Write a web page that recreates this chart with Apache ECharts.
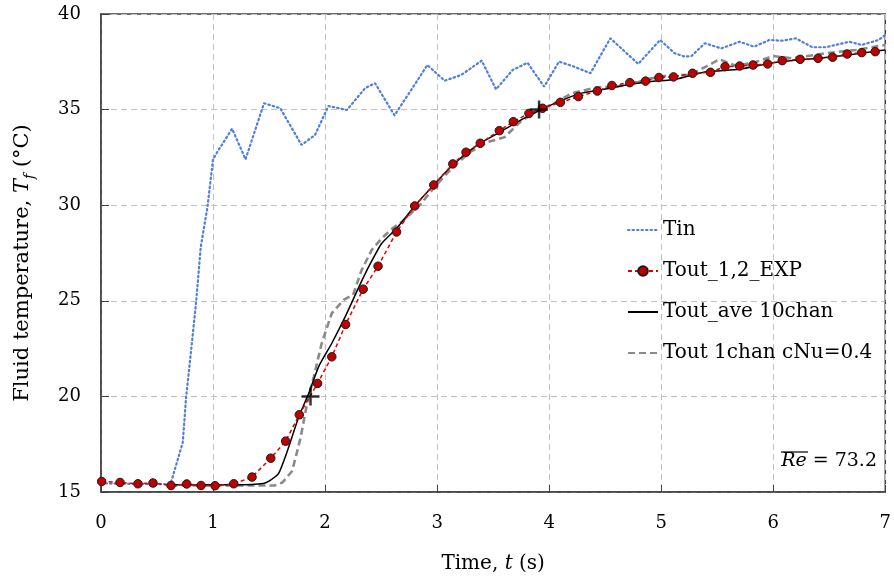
<!DOCTYPE html>
<html>
<head>
<meta charset="utf-8">
<script src="https://cdn.jsdelivr.net/npm/echarts@6/dist/echarts.min.js"></script>
<style>
html,body{margin:0;padding:0;background:#fff;}
#chart{width:894px;height:585px;}
</style>
</head>
<body>
<div id="chart"></div>
<script>
// ---- data (time in s, temperature in °C) ----
const tinT = [0, 0.62, 0.69, 0.73, 0.76, 0.79, 0.85, 0.89, 0.95, 1.0, 1.04, 1.17, 1.29, 1.455, 1.6, 1.79, 1.91, 2.03, 2.195, 2.357, 2.446, 2.62, 2.913, 3.067, 3.215, 3.398, 3.526, 3.674, 3.807, 3.955, 4.088, 4.22, 4.368, 4.546, 4.795, 4.99, 5.12, 5.21, 5.27, 5.39, 5.537, 5.70, 5.83, 5.966, 6.08, 6.20, 6.35, 6.47, 6.68, 6.79, 6.94, 7.0];
const tinV = [15.45, 15.4, 16.8, 17.6, 20.0, 21.6, 25.0, 27.8, 29.9, 32.4, 32.8, 34.0, 32.4, 35.33, 35.07, 33.15, 33.67, 35.19, 34.98, 36.12, 36.38, 34.7, 37.33, 36.51, 36.81, 37.56, 36.06, 37.07, 37.45, 36.2, 37.51, 37.25, 36.9, 38.73, 37.39, 38.64, 37.95, 37.77, 37.8, 38.47, 38.2, 38.55, 38.29, 38.64, 38.6, 38.73, 38.26, 38.26, 38.55, 38.38, 38.64, 38.9];

const expT = [0.006, 0.17, 0.33, 0.464, 0.625, 0.765, 0.893, 1.018, 1.185, 1.348, 1.515, 1.648, 1.77, 1.933, 2.06, 2.183, 2.34, 2.473, 2.638, 2.80, 2.97, 3.14, 3.258, 3.385, 3.555, 3.68, 3.82, 3.94, 4.10, 4.26, 4.43, 4.56, 4.72, 4.86, 4.98, 5.11, 5.28, 5.44, 5.57, 5.70, 5.82, 5.95, 6.08, 6.24, 6.40, 6.53, 6.66, 6.79, 6.91];
const expV = [15.55, 15.5, 15.43, 15.47, 15.34, 15.42, 15.34, 15.33, 15.43, 15.78, 16.77, 17.66, 19.04, 20.68, 22.07, 23.76, 25.61, 26.81, 28.6, 29.96, 31.06, 32.16, 32.77, 33.24, 33.9, 34.37, 34.8, 35.07, 35.38, 35.68, 35.97, 36.26, 36.41, 36.49, 36.68, 36.71, 36.9, 36.95, 37.25, 37.28, 37.33, 37.39, 37.56, 37.63, 37.68, 37.74, 37.91, 37.98, 38.03];

const aveT = [0.62, 1.2, 1.45, 1.52, 1.588, 1.677, 1.766, 1.855, 1.943, 2.06, 2.18, 2.30, 2.40, 2.505, 2.64, 2.80, 2.97, 3.14, 3.36, 3.54, 3.75, 3.9, 4.07, 4.28, 4.49, 4.69, 4.90, 5.13, 5.40, 5.70, 6.0, 6.29, 6.59, 6.88, 7.0];
const aveV = [15.38, 15.38, 15.45, 15.65, 16.0, 17.38, 18.95, 20.17, 21.56, 22.78, 24.17, 25.7, 26.9, 28.0, 28.8, 29.96, 31.06, 32.1, 33.15, 33.76, 34.46, 34.92, 35.38, 35.85, 36.06, 36.29, 36.46, 36.59, 36.98, 37.11, 37.45, 37.63, 37.8, 38.03, 38.12];

const oneT = [0.62, 1.55, 1.62, 1.706, 1.78, 1.84, 1.90, 1.97, 2.06, 2.165, 2.25, 2.327, 2.417, 2.505, 2.594, 2.70, 2.86, 2.97, 3.14, 3.30, 3.45, 3.60, 3.75, 3.90, 4.07, 4.20, 4.43, 4.60, 4.75, 4.87, 5.08, 5.25, 5.40, 5.52, 5.67, 5.85, 6.0, 6.17, 6.47, 6.74, 7.0];
const oneV = [15.34, 15.34, 15.5, 16.1, 17.8, 19.65, 21.04, 22.78, 24.35, 25.05, 25.31, 26.62, 27.66, 28.27, 28.75, 29.2, 30.1, 30.9, 32.0, 32.8, 33.3, 33.55, 34.4, 34.95, 35.4, 35.85, 36.17, 36.2, 36.35, 36.59, 36.81, 36.8, 37.25, 37.63, 37.28, 37.5, 37.8, 37.68, 37.95, 38.12, 38.38];

const crossT = [1.87, 3.91];
const crossV = [20.0, 35.0];

const xTicks = [0, 1, 2, 3, 4, 5, 6, 7];
const yTicks = [15, 20, 25, 30, 35, 40];
const seriesNames = ['Tin', 'Tout_1,2_EXP', 'Tout_ave 10chan', 'Tout 1chan cNu=0.4'];

const zip = (a, b) => a.map((v, i) => [v, b[i]]);
const FONT = 'DejaVu Serif';
const noSym = {color: 'rgba(0,0,0,0)', borderColor: 'rgba(0,0,0,0)', borderWidth: 0};

const chart = echarts.init(document.getElementById('chart'), null, {renderer: 'canvas'});
const option = {
  animation: false,
  backgroundColor: '#fff',
  textStyle: {fontFamily: FONT, color: '#000'},
  grid: {left: 101, top: 14, right: 3, bottom: 93, show: true, borderColor: '#404040', borderWidth: 1.5},
  xAxis: {
    type: 'value', min: xTicks[0], max: xTicks[xTicks.length - 1], interval: 1,
    name: '{n|Time, }{i|t}{n| (s)}', nameLocation: 'middle', nameGap: 62,
    nameTextStyle: {rich: {
      n: {fontFamily: FONT, fontSize: 20, color: '#000'},
      i: {fontFamily: FONT, fontSize: 20, fontStyle: 'italic', color: '#000'}
    }},
    axisLine: {show: true, lineStyle: {color: '#404040', width: 1.5}},
    axisTick: {show: true, inside: true, length: 7, lineStyle: {color: '#404040'}},
    axisLabel: {margin: 22, fontFamily: FONT, fontSize: 18, color: '#000'},
    splitLine: {show: true, lineStyle: {color: '#c0c0c0', type: [6, 4], width: 1}}
  },
  yAxis: {
    type: 'value', min: yTicks[0], max: yTicks[yTicks.length - 1], interval: 5,
    name: '{n|Fluid temperature, }{i|T}{s|f}{n| (°C)}', nameLocation: 'middle', nameGap: 64,
    nameTextStyle: {padding: [0, 20, 0, 0], rich: {
      n: {fontFamily: FONT, fontSize: 21, color: '#000', lineHeight: 28},
      i: {fontFamily: FONT, fontSize: 21, fontStyle: 'italic', color: '#000', lineHeight: 28},
      s: {fontFamily: FONT, fontSize: 14, fontStyle: 'italic', color: '#000', lineHeight: 28, verticalAlign: 'bottom'}
    }},
    axisLine: {show: true, lineStyle: {color: '#404040', width: 1.5}},
    axisTick: {show: true, inside: true, length: 8, lineStyle: {color: '#404040'}},
    axisLabel: {margin: 20, fontFamily: FONT, fontSize: 18, color: '#000'},
    splitLine: {show: true, lineStyle: {color: '#c0c0c0', type: [6, 4], width: 1}}
  },
  legend: {
    data: [
      {name: seriesNames[0], itemStyle: noSym},
      {name: seriesNames[1]},
      {name: seriesNames[2], itemStyle: noSym},
      {name: seriesNames[3], itemStyle: noSym}
    ],
    orient: 'vertical', left: 622, top: 215,
    itemWidth: 30, itemHeight: 12, itemGap: 21,
    textStyle: {fontFamily: FONT, fontSize: 20, color: '#000', lineHeight: 20}
  },
  series: [
    {name: seriesNames[0], type: 'line', data: zip(tinT, tinV), symbol: 'none',
     lineStyle: {color: '#4f7fd8', width: 2.2, type: [1.5, 3], cap: 'round'}, itemStyle: {color: '#4f7fd8'}, z: 2},
    {name: seriesNames[3], type: 'line', data: zip(oneT, oneV), symbol: 'none',
     lineStyle: {color: '#8a8a8a', width: 2.6, type: [7, 4]}, itemStyle: {color: '#8a8a8a'}, z: 3},
    {name: seriesNames[2], type: 'line', data: zip(aveT, aveV), symbol: 'none', smooth: 0.2,
     lineStyle: {color: '#000', width: 1.5}, itemStyle: {color: '#000'}, z: 4},
    {name: seriesNames[1], type: 'line', data: zip(expT, expV), symbol: 'circle', symbolSize: 8.5, showSymbol: true,
     lineStyle: {color: '#e00000', width: 1.5, type: [4, 3]},
     itemStyle: {color: '#c00000', borderColor: '#1a1a1a', borderWidth: 1}, z: 5},
    {name: 'cross', type: 'scatter', data: zip(crossT, crossV),
     symbol: 'path://M0,6.9h16v2.2h-16z M6.9,0h2.2v16h-2.2z', symbolSize: 18,
     itemStyle: {color: '#000'}, z: 6}
  ],
  graphic: [
    {type: 'text', right: 17, top: 452, style: {
      rich: {
        i: {fontFamily: FONT, fontSize: 19, fontStyle: 'italic', fill: '#000'},
        n: {fontFamily: FONT, fontSize: 19, fill: '#000'}
      },
      text: '{i|Re}{n| = 73.2}'
    }},
    {type: 'line', shape: {x1: 781, y1: 452, x2: 808, y2: 452}, style: {stroke: '#000', lineWidth: 1.2}}
  ]
};
chart.setOption(option);
</script>
</body>
</html>
